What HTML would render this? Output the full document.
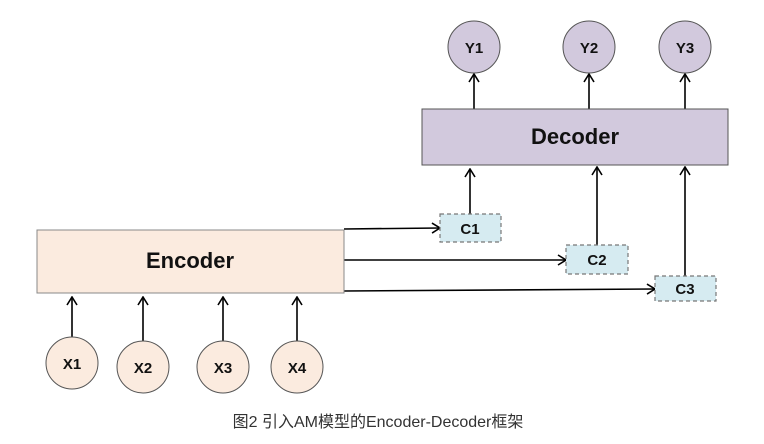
<!DOCTYPE html>
<html><head><meta charset="utf-8"><style>body{margin:0;background:#fff}svg{display:block}</style></head><body>
<svg width="764" height="444" viewBox="0 0 764 444" xmlns="http://www.w3.org/2000/svg" font-family="Liberation Sans, sans-serif">
<defs><marker id="a" markerWidth="10" markerHeight="12" refX="9" refY="6" orient="auto" markerUnits="userSpaceOnUse"><path d="M1,1 L9,6 L1,11" fill="none" stroke="#000" stroke-width="1.6"/></marker></defs>
<g stroke="#000" stroke-width="1.6" fill="none" marker-end="url(#a)">
<line x1="474" y1="109" x2="474" y2="74"/>
<line x1="589" y1="109" x2="589" y2="74"/>
<line x1="685" y1="109" x2="685" y2="74"/>
<line x1="470" y1="214" x2="470" y2="169"/>
<line x1="597" y1="245" x2="597" y2="167"/>
<line x1="685" y1="276" x2="685" y2="167"/>
<line x1="344" y1="229" x2="440" y2="228"/>
<line x1="344" y1="260" x2="566" y2="260"/>
<line x1="344" y1="291" x2="655" y2="289"/>
<line x1="72" y1="337" x2="72" y2="297"/>
<line x1="143" y1="341" x2="143" y2="297"/>
<line x1="223" y1="341" x2="223" y2="297"/>
<line x1="297" y1="341" x2="297" y2="297"/>
</g>
<g stroke="#555" stroke-width="1" fill="#d2c9dd">
<circle cx="474" cy="47" r="26"/><circle cx="589" cy="47" r="26"/><circle cx="685" cy="47" r="26"/>
<rect x="422" y="109" width="306" height="56"/>
</g>
<rect x="37" y="230" width="307" height="63" fill="#fbebdf" stroke="#888" stroke-width="1"/>
<g stroke="#555" stroke-width="1" fill="#fbebdf">
<circle cx="72" cy="363" r="26"/><circle cx="143" cy="367" r="26"/><circle cx="223" cy="367" r="26"/><circle cx="297" cy="367" r="26"/>
</g>
<g stroke="#777" stroke-width="1.2" stroke-dasharray="4,3" fill="#d6ebf1">
<rect x="440" y="214" width="61" height="28"/>
<rect x="566" y="245" width="62" height="29"/>
<rect x="655" y="276" width="61" height="25"/>
</g>
<g font-weight="bold" fill="#111" text-anchor="middle">
<text x="575" y="144" font-size="22">Decoder</text>
<text x="190" y="268" font-size="22">Encoder</text>
<g font-size="15">
<text x="474" y="53">Y1</text><text x="589" y="53">Y2</text><text x="685" y="53">Y3</text>
<text x="470" y="234">C1</text><text x="597" y="265">C2</text><text x="685" y="294">C3</text>
<text x="72" y="369">X1</text><text x="143" y="373">X2</text><text x="223" y="373">X3</text><text x="297" y="373">X4</text>
</g></g>
<text x="378" y="427" font-size="16" fill="#333" text-anchor="middle" font-family="Liberation Sans, Noto Sans CJK SC, sans-serif">图2 引入AM模型的Encoder-Decoder框架</text>
</svg>
</body></html>
